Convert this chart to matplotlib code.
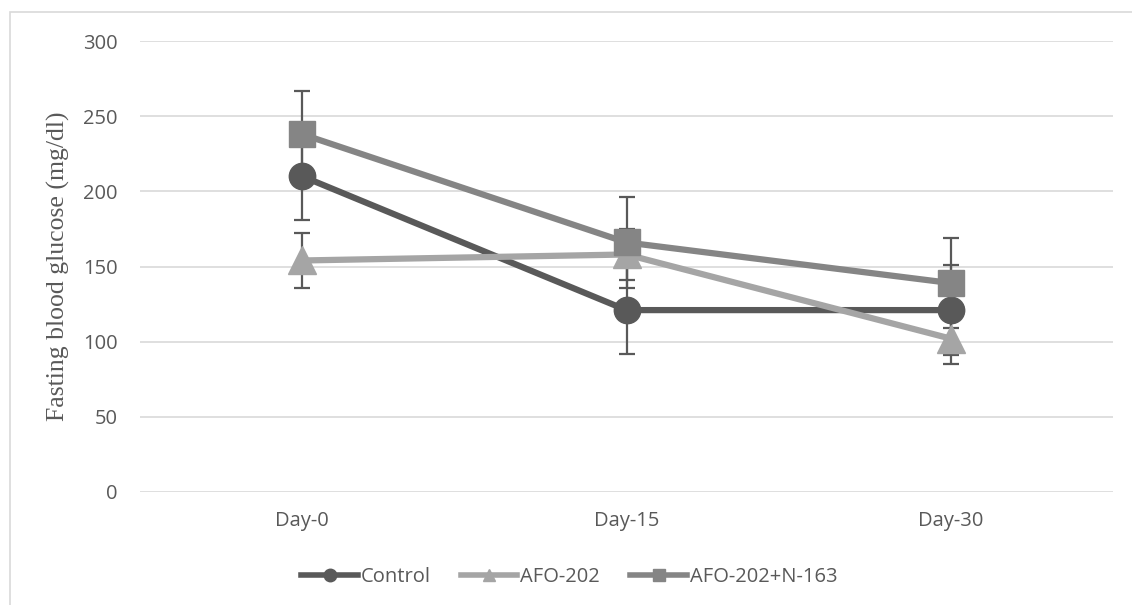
import matplotlib.pyplot as plt
from matplotlib.patches import Rectangle
from matplotlib.lines import Line2D

days = ['Day-0', 'Day-15', 'Day-30']
control = [210, 121, 121]
control_err = [29, 29, 30]
afo = [154, 158, 102]
afo_err = [18, 17, 17]
combo = [238, 166, 139]
combo_err = [29, 30, 30]

# estilos de cada serie
series = [
    ('Control', control, control_err, '#595959', 'o', 19),
    ('AFO-202', afo, afo_err, '#A5A5A5', '^', 20),
    ('AFO-202+N-163', combo, combo_err, '#858585', 's', 19),
]

plt.rcParams['font.family'] = ['Open Sans', 'DejaVu Sans']

fig = plt.figure(figsize=(11.32, 6.05), dpi=100)
ax = fig.add_axes([0.1237, 0.1868, 0.8595, 0.7454])

x = range(len(days))
handles = []
for name, vals, errs, color, mk, ms in series:
    ax.errorbar(x, vals, yerr=errs, fmt='none', ecolor='#595959',
                elinewidth=1.6, capsize=6, capthick=1.6, zorder=2)
for name, vals, errs, color, mk, ms in series:
    ax.plot(x, vals, color=color, lw=4.5, marker=mk, markersize=ms, zorder=3)
    handles.append(Line2D([], [], color=color, lw=4, marker=mk, markersize=9))

ax.set_xlim(-0.5, 2.5)
ax.set_ylim(0, 300)
ax.set_yticks(range(0, 301, 50))
ax.set_xticks(list(x))
ax.set_xticklabels(days)
ax.grid(axis='y', color='#D9D9D9', lw=1.2)
ax.set_axisbelow(True)
for s in ax.spines.values():
    s.set_visible(False)
ax.tick_params(length=0, labelsize=14.5, colors='#595959', pad=16)
ax.tick_params(axis='x', pad=14)

ax.set_ylabel('Fasting blood glucose (mg/dl)', family='Liberation Serif',
              fontsize=18.5, color='#595959')
ax.yaxis.set_label_coords(-0.072, 0.5)

fig.legend(handles, [s[0] for s in series], loc='center', bbox_to_anchor=(0.503, 0.046),
           ncol=3, frameon=False, fontsize=14.5, labelcolor='#595959',
           handlelength=2.8, handletextpad=0.15, columnspacing=1.5)

# marco de la figura
fig.patches.append(Rectangle((10 / 1132, -0.1), 1.2, 1.1 - 12 / 605,
                             transform=fig.transFigure, fill=False,
                             edgecolor='#D9D9D9', lw=1.2))

plt.savefig('out.png')
plt.close()
